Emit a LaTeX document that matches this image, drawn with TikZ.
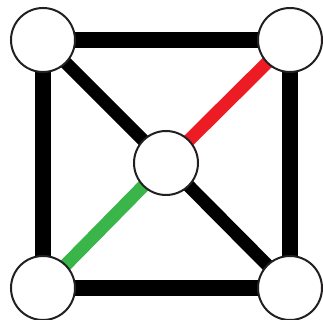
\documentclass[tikz,border=0pt]{standalone}
\definecolor{cred}{HTML}{ED1C24}
\definecolor{cgreen}{HTML}{39B54A}
\definecolor{cring}{HTML}{231F20}
\begin{document}
\begin{tikzpicture}[x=1pt,y=1pt,
  vtx/.style={circle,draw=cring,line width=2pt,fill=white,minimum size=64pt,inner sep=0pt},
  outer/.style={line width=16pt,black},
  diag/.style={line width=13pt}]
\useasboundingbox (0,0) rectangle (323,320);
\coordinate (ptl) at (43,280);
\coordinate (ptr) at (290,280);
\coordinate (pbl) at (43,32);
\coordinate (pbr) at (290,32);
\coordinate (pc) at (166,157);
\draw[outer] (ptl) -- (ptr) -- (pbr) -- (pbl) -- cycle;
\draw[diag,black] (ptl) -- (pc) -- (pbr);
\draw[diag,cred] (pc) -- (ptr);
\draw[diag,cgreen] (pc) -- (pbl);
\node[vtx] (tl) at (ptl) {};
\node[vtx] (tr) at (ptr) {};
\node[vtx] (bl) at (pbl) {};
\node[vtx] (br) at (pbr) {};
\node[vtx] (c) at (pc) {};
\end{tikzpicture}
\end{document}
